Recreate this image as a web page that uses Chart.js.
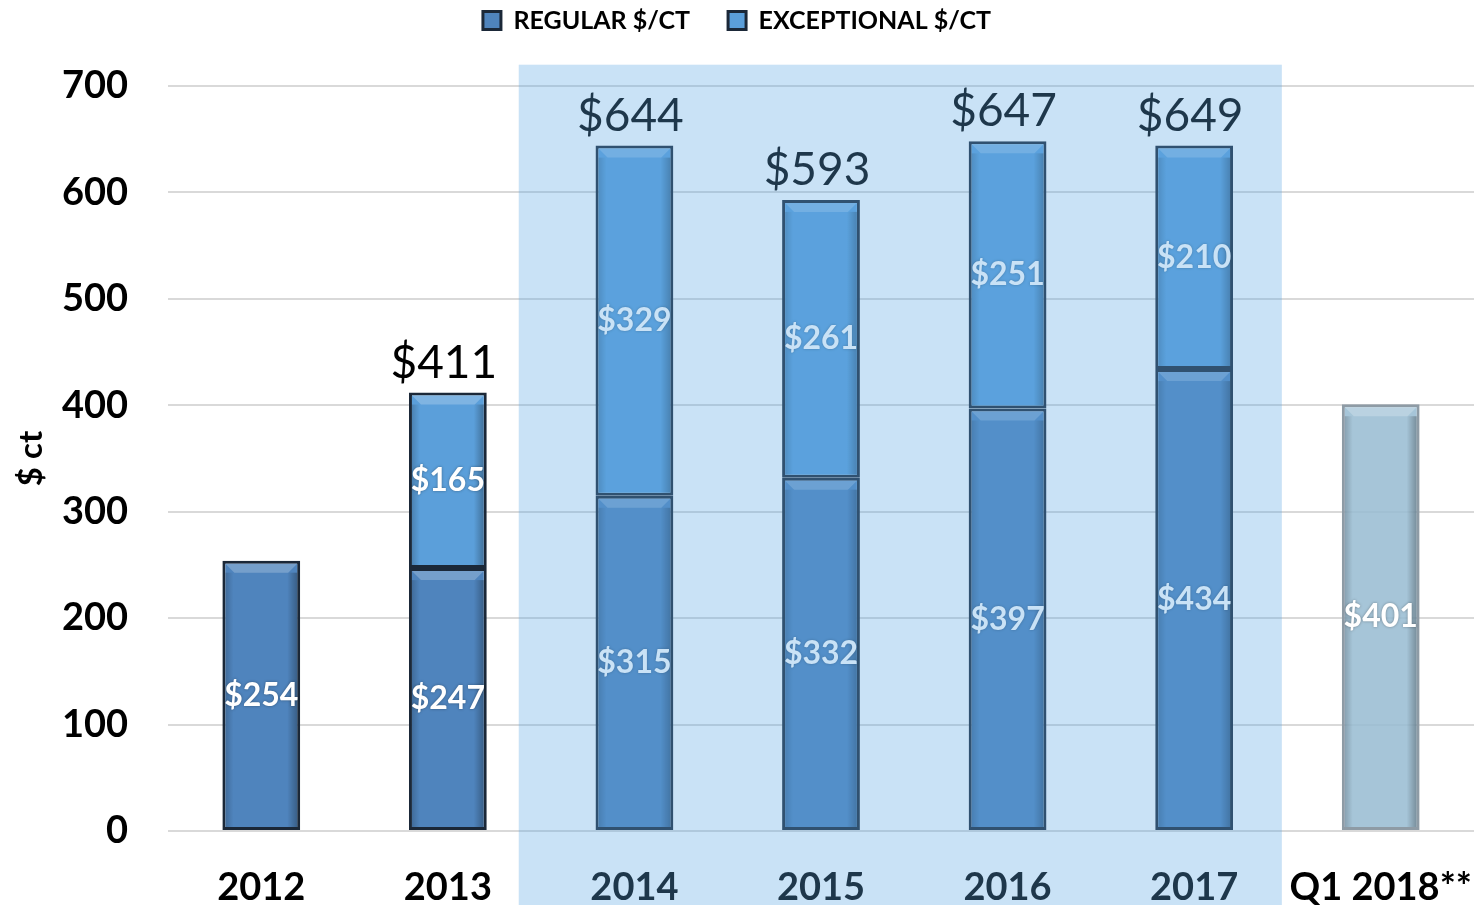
<!DOCTYPE html>
<html><head><meta charset="utf-8">
<script src="https://cdn.jsdelivr.net/npm/chart.js@4"></script>
<style>html,body{margin:0;padding:0;background:#fff;overflow:hidden}#wrap{width:1475px;height:905px;position:relative}</style>
</head><body><div id="wrap"><canvas id="c"></canvas></div>
<script>
// ---- data ----
const categories = ['2012', '2013', '2014', '2015', '2016', '2017', 'Q1 2018**'];
const regular = [254, 247, 315, 332, 397, 434, 401];
const exceptional = [null, 165, 329, 261, 251, 210, null];
const totalLabels = [null, '$411', '$644', '$593', '$647', '$649', null];
const seriesNames = ['REGULAR $/CT', 'EXCEPTIONAL $/CT'];
const yTicks = [0, 100, 200, 300, 400, 500, 600, 700];
const highlightStart = '2014';
const highlightEnd = '2017';
const yTitle = '$ ct';

// ---- styles ----
const FONT = 'Lato, "Open Sans", "DejaVu Sans", sans-serif';
const regColors = categories.map((c, i) => i === categories.length - 1 ? 'rgba(150,187,209,0.85)' : '#4f84bd');
const regBorders = categories.map((c, i) => i === categories.length - 1 ? '#8e9ba5' : '#1b2838');
const excColors = categories.map(() => '#5b9fda');
const excBorders = categories.map(() => '#1b2838');

const bevel = {
  id: 'bevel',
  afterDatasetsDraw(chart) {
    const ctx = chart.ctx;
    chart.data.datasets.forEach((ds, di) => {
      const meta = chart.getDatasetMeta(di);
      meta.data.forEach((el, i) => {
        if (ds.data[i] == null) return;
        const p = el.getProps(['x', 'y', 'base', 'width'], true);
        const l = p.x - p.width / 2, r = p.x + p.width / 2;
        const t = Math.min(p.y, p.base), b = Math.max(p.y, p.base);
        const bw = 3, d = 9;
        ctx.save();
        ctx.fillStyle = 'rgba(255,255,255,0.22)';
        ctx.beginPath();
        ctx.moveTo(l + bw, t + bw); ctx.lineTo(r - bw, t + bw);
        ctx.lineTo(r - bw - d, t + bw + d); ctx.lineTo(l + bw + d, t + bw + d);
        ctx.closePath(); ctx.fill();
        const h = b - t - 2 * bw - d;
        if (h > 0) {
          let g = ctx.createLinearGradient(r - bw - 10, 0, r - bw, 0);
          g.addColorStop(0, 'rgba(0,0,0,0)'); g.addColorStop(1, 'rgba(0,0,0,0.28)');
          ctx.fillStyle = g; ctx.fillRect(r - bw - 10, t + bw + d, 10, h);
          g = ctx.createLinearGradient(l + bw, 0, l + bw + 8, 0);
          g.addColorStop(0, 'rgba(0,0,0,0.18)'); g.addColorStop(1, 'rgba(0,0,0,0)');
          ctx.fillStyle = g; ctx.fillRect(l + bw, t + bw + d, 8, h);
        }
        ctx.restore();
      });
    });
  }
};

const labels = {
  id: 'labels',
  afterDatasetsDraw(chart) {
    const ctx = chart.ctx;
    ctx.save();
    ctx.textAlign = 'center';
    ctx.textBaseline = 'middle';
    ctx.font = 'bold 32px ' + FONT;
    const tops = [];
    chart.data.datasets.forEach((ds, di) => {
      const meta = chart.getDatasetMeta(di);
      meta.data.forEach((el, i) => {
        if (ds.data[i] == null) return;
        const p = el.getProps(['x', 'y', 'base'], true);
        tops[i] = tops[i] == null ? p.y : Math.min(tops[i], p.y);
        ctx.fillStyle = '#ffffff';
        ctx.shadowColor = 'rgba(0,0,0,0.35)';
        ctx.shadowBlur = 3;
        ctx.fillText('$' + ds.data[i], p.x, (p.y + p.base) / 2);
      });
    });
    ctx.shadowBlur = 0;
    ctx.font = '46px ' + FONT;
    ctx.fillStyle = '#000000';
    ctx.textBaseline = 'alphabetic';
    const xs = chart.scales.x;
    totalLabels.forEach((t, i) => {
      if (!t) return;
      ctx.fillText(t, xs.getPixelForValue(i) - 4, tops[i] - 15);
    });
    ctx.restore();
  }
};

const band = {
  id: 'band',
  afterDraw(chart) {
    const ctx = chart.ctx, xs = chart.scales.x, ys = chart.scales.y;
    const i0 = categories.indexOf(highlightStart), i1 = categories.indexOf(highlightEnd);
    const x0 = xs.getPixelForValue(i0 - 0.62), x1 = xs.getPixelForValue(i1 + 0.47);
    const y0 = ys.getPixelForValue(720);
    ctx.save();
    ctx.fillStyle = 'rgba(90,167,227,0.33)';
    ctx.fillRect(x0, y0, x1 - x0, chart.height - y0);
    ctx.restore();
  }
};

const legendShift = {
  id: 'legendShift',
  afterLayout(chart) {
    const lg = chart.legend;
    if (!lg) return;
    const dy = -43;
    lg.top += dy; lg.bottom += dy;
    (lg.legendHitBoxes || []).forEach(h => { h.top += dy; });
  }
};

new Chart(document.getElementById('c'), {
  type: 'bar',
  data: {
    labels: categories,
    datasets: [
      { label: seriesNames[0], data: regular, backgroundColor: regColors, borderColor: regBorders, borderWidth: 3, borderSkipped: false },
      { label: seriesNames[1], data: exceptional, backgroundColor: excColors, borderColor: excBorders, borderWidth: 3, borderSkipped: false }
    ]
  },
  options: {
    responsive: true,
    maintainAspectRatio: false,
    animation: false,
    layout: { padding: { left: 0, right: 1, top: 13, bottom: 0 } },
    datasets: { bar: { categoryPercentage: 1, barPercentage: 0.417 } },
    plugins: {
      legend: {
        position: 'top',
        labels: {
          font: { family: FONT, size: 25, weight: 'bold' },
          color: '#000',
          boxWidth: 18, boxHeight: 18,
          padding: 38
        }
      },
      tooltip: { enabled: false }
    },
    scales: {
      x: {
        stacked: true,
        grid: { display: false, drawTicks: false },
        border: { display: false },
        ticks: { font: { family: FONT, size: 38, weight: 'bold' }, color: '#000', padding: 34, maxRotation: 0 },
        afterFit(s) { s.height = 74; s.paddingLeft = 0; s.paddingRight = 0; }
      },
      y: {
        stacked: true,
        min: 0, max: 700,
        afterBuildTicks(s) { s.ticks = yTicks.map(v => ({ value: v })); },
        grid: { color: '#d9d9d9', lineWidth: 2, drawTicks: false },
        border: { display: false },
        ticks: { font: { family: FONT, size: 38, weight: 'bold' }, color: '#000', padding: 40 },
        title: { display: true, text: yTitle, font: { family: FONT, size: 33, weight: 'bold' }, color: '#000', padding: { top: 12, bottom: 0 } },
        afterFit(s) { s.width = 168; }
      }
    }
  },
  plugins: [bevel, labels, band, legendShift]
});
</script></body></html>
